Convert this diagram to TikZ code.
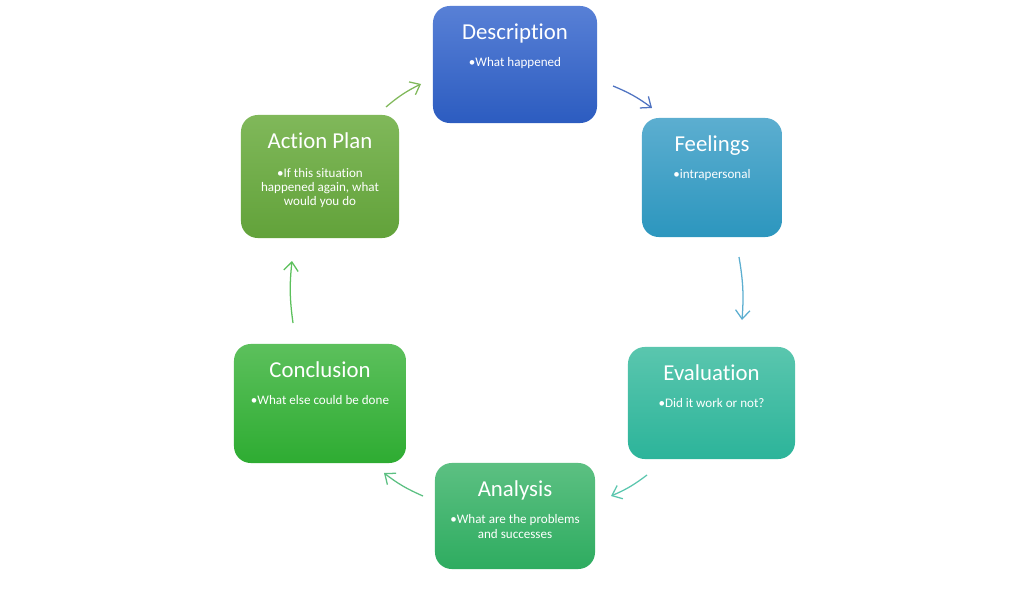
\documentclass[tikz,border=0pt]{standalone}
\usepackage{fontspec}
\setmainfont{Carlito}[Ligatures=NoCommon]
\usetikzlibrary{arrows.meta,positioning}
\definecolor{descT}{RGB}{88,128,214}  \definecolor{descB}{RGB}{44,92,192}
\definecolor{feelT}{RGB}{92,174,208}  \definecolor{feelB}{RGB}{44,150,190}
\definecolor{evalT}{RGB}{90,198,174}  \definecolor{evalB}{RGB}{44,180,154}
\definecolor{analT}{RGB}{92,192,130}  \definecolor{analB}{RGB}{46,172,96}
\definecolor{conclT}{RGB}{92,192,92}  \definecolor{conclB}{RGB}{46,172,50}
\definecolor{actT}{RGB}{128,184,90}   \definecolor{actB}{RGB}{98,162,58}
\tikzset{
  card/.style = {rectangle, rounded corners=0.42cm, inner sep=0},
  ttl/.style  = {font=\fontsize{16.2}{18}\selectfont, text=white, anchor=base},
  pt/.style   = {font=\fontsize{9.3}{10.2}\selectfont, text=white, align=center, anchor=north, inner sep=0},
  flow/.style = {line width=0.9pt, -{Straight Barb[length=2.2mm,width=3.6mm]}, bend left=7}
}
\begin{document}
\begin{tikzpicture}[x=0.025cm,y=-0.025cm]
  \useasboundingbox (0,0) rectangle (1024,590);
  \node[card, top color=descT, bottom color=descB, minimum width=4.1cm, minimum height=2.925cm] (desc) at (515,64.5) {};
  \node[ttl] (desc-t) at ([yshift=-0.84cm]desc.north) {Description};
  \node[pt]  (desc-p) at ([yshift=-1.29cm]desc.north) {•What happened};
  \node[card, top color=feelT, bottom color=feelB, minimum width=3.5cm, minimum height=2.975cm] (feel) at (712,177.5) {};
  \node[ttl] (feel-t) at ([yshift=-0.84cm]feel.north) {Feelings};
  \node[pt]  (feel-p) at ([yshift=-1.29cm]feel.north) {•intrapersonal};
  \node[card, top color=evalT, bottom color=evalB, minimum width=4.175cm, minimum height=2.8cm] (eval) at (711.5,403) {};
  \node[ttl] (eval-t) at ([yshift=-0.84cm]eval.north) {Evaluation};
  \node[pt]  (eval-p) at ([yshift=-1.29cm]eval.north) {•Did it work or not?};
  \node[card, top color=analT, bottom color=analB, minimum width=4.0cm, minimum height=2.65cm] (anal) at (515,516) {};
  \node[ttl] (anal-t) at ([yshift=-0.84cm]anal.north) {Analysis};
  \node[pt]  (anal-p) at ([yshift=-1.29cm]anal.north) {•What are the problems\\and successes};
  \node[card, top color=conclT, bottom color=conclB, minimum width=4.3cm, minimum height=2.975cm] (concl) at (320,403.5) {};
  \node[ttl] (concl-t) at ([yshift=-0.84cm]concl.north) {Conclusion};
  \node[pt]  (concl-p) at ([yshift=-1.29cm]concl.north) {•What else could be done};
  \node[card, top color=actT, bottom color=actB, minimum width=3.95cm, minimum height=3.075cm] (act) at (320,176.5) {};
  \node[ttl] (act-t) at ([yshift=-0.84cm]act.north) {Action Plan};
  \node[pt]  (act-p) at ([yshift=-1.33cm]act.north) {•If this situation\\happened again, what\\would you do};
  \coordinate (d2f-s) at (613,86);  \coordinate (d2f-e) at (652,108);
  \coordinate (f2e-s) at (739,257); \coordinate (f2e-e) at (742,320);
  \coordinate (e2a-s) at (647,475); \coordinate (e2a-e) at (611,496);
  \coordinate (a2c-s) at (423,496); \coordinate (a2c-e) at (384,473);
  \coordinate (c2p-s) at (293,323); \coordinate (c2p-e) at (292,261);
  \coordinate (p2d-s) at (386,107); \coordinate (p2d-e) at (421,84);
  \draw[flow, draw=descT!90!black] (d2f-s) to (d2f-e);
  \draw[flow, draw=feelT]  (f2e-s) to (f2e-e);
  \draw[flow, draw=evalT]  (e2a-s) to (e2a-e);
  \draw[flow, draw=analT]  (a2c-s) to (a2c-e);
  \draw[flow, draw=conclT] (c2p-s) to (c2p-e);
  \draw[flow, draw=actT]   (p2d-s) to (p2d-e);
\end{tikzpicture}
\end{document}
